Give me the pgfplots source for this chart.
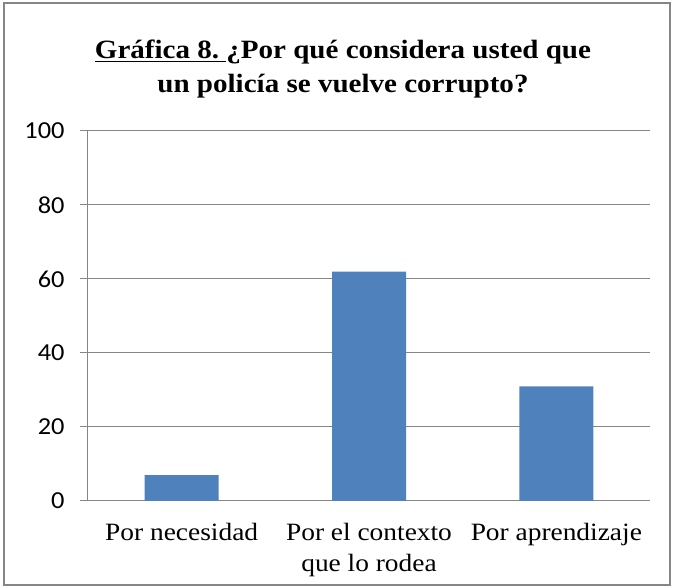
\documentclass[border=0pt]{standalone}
\usepackage{pgfplots}
\pgfplotsset{compat=1.18}
\usepackage{fontspec}
\setmainfont{Liberation Serif}[FakeStretch=1.1]
\newfontfamily\calibri{Carlito}[FakeStretch=1.08]
\definecolor{barblue}{HTML}{4F81BD}
\definecolor{gridgray}{HTML}{868686}
\begin{document}
\begin{tikzpicture}[x=1bp,y=1bp]
\useasboundingbox (-88,-87) rectangle (586,501);
\draw[gridgray, line width=1.2bp] (-84,-84) rectangle (582,498);
\node[anchor=base, inner sep=0, font=\bfseries\fontsize{26.5}{30}\selectfont] at (255,442) {\underline{Gráfica 8.\ }¿Por qué considera usted que};
\node[anchor=base, inner sep=0, font=\bfseries\fontsize{26.5}{30}\selectfont] at (255,408) {un policía se vuelve corrupto?};
\begin{axis}[
  at={(0,0)}, anchor=south west,
  scale only axis, width=562bp, height=370bp,
  xmin=-0.5, xmax=2.5, ymin=0, ymax=100,
  ytick={0,20,...,100},
  xtick={0,1,2},
  xticklabels={Por necesidad, Por el contexto\\que lo rodea, Por aprendizaje},
  xticklabel style={align=center, font=\fontsize{25}{31}\selectfont, yshift=-11bp},
  yticklabel style={font=\calibri\fontsize{24.5}{24}\selectfont, xshift=-12bp},
  /pgf/number format/assume math mode=true,
  axis x line*=bottom, axis y line*=left,
  x axis line style={-}, y axis line style={-},
  axis line style={gridgray, line width=1bp},
  ymajorgrids, grid style={gridgray, line width=1bp},
  tick align=outside, major tick length=8bp,
  ytick style={gridgray, line width=1bp},
  xtick style={draw=none},
  ybar, bar width=74bp,
]
\addplot[fill=barblue, draw=none] coordinates {(0,7) (1,62) (2,31)};
\end{axis}
\end{tikzpicture}
\end{document}
